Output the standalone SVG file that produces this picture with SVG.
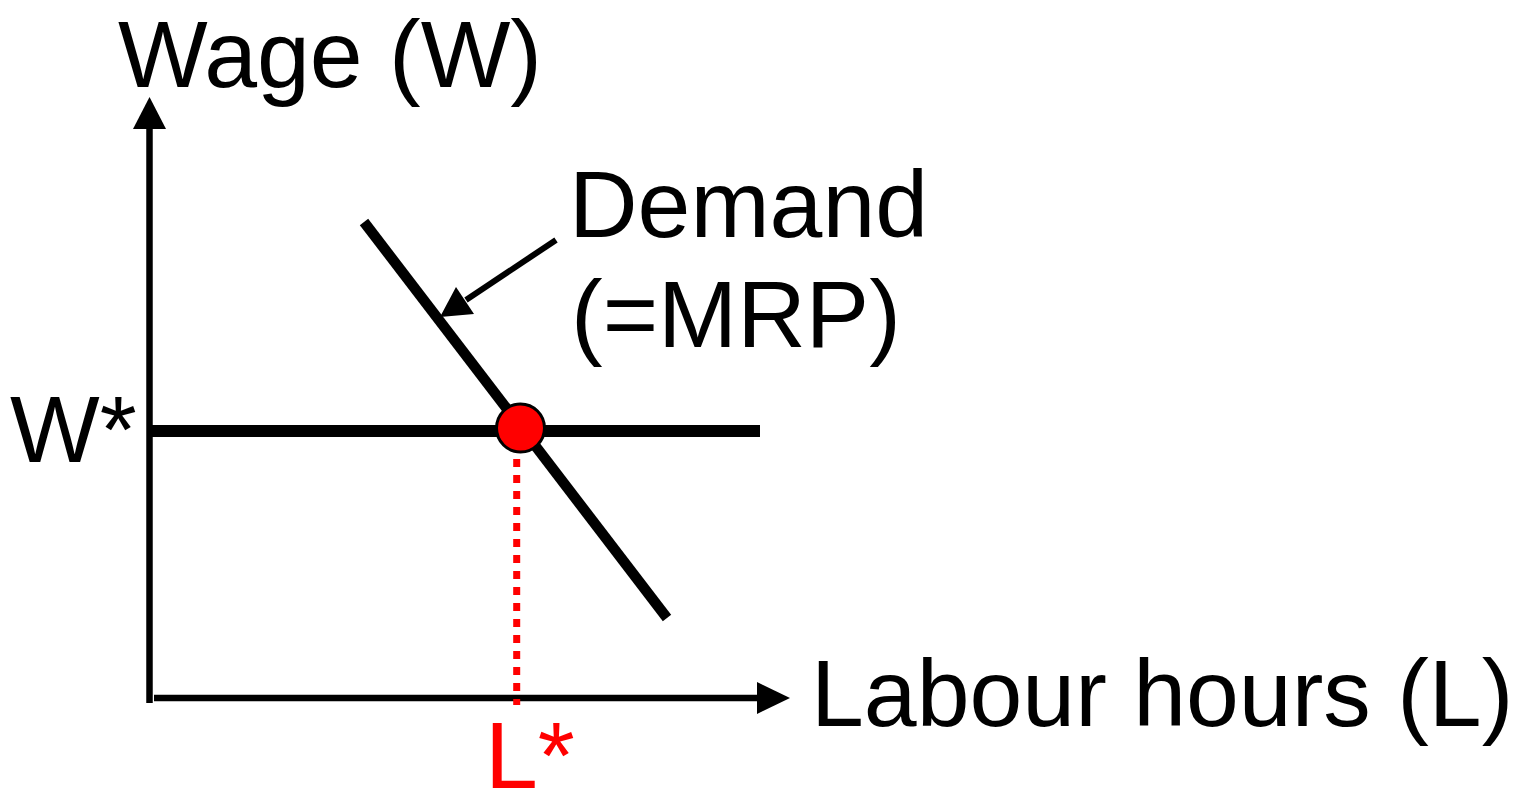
<svg xmlns="http://www.w3.org/2000/svg" width="1529" height="792" viewBox="0 0 1529 792">
<style>
text{font-family:"Liberation Sans",Arial,sans-serif;font-size:95px;fill:#000}
.red{fill:#ff0000}
</style>
<rect width="1529" height="792" fill="#fff"/>
<g id="axes">
<line x1="149.5" y1="703" x2="149.5" y2="125" stroke="#000" stroke-width="6.5"/>
<path d="M149.5,97 L133,129 L166,129 Z" fill="#000"/>
<line x1="154" y1="698" x2="760" y2="698" stroke="#000" stroke-width="6.5"/>
<path d="M790,698 L757,682 L757,714 Z" fill="#000"/>
</g>
<g id="connectors">
<line x1="516.7" y1="459" x2="516.7" y2="705" stroke="#ff0000" stroke-width="7" stroke-dasharray="8 8"/>
<line x1="152" y1="431" x2="760" y2="431" stroke="#000" stroke-width="12"/>
<line x1="364" y1="222" x2="667" y2="618" stroke="#000" stroke-width="10.5"/>
<line x1="556" y1="240" x2="466" y2="300" stroke="#000" stroke-width="6"/>
<path d="M440,317 L456,287 L474,314 Z" fill="#000"/>
</g>
<g id="equilibrium">
<circle cx="520.5" cy="428" r="24" fill="#ff0000" stroke="#000" stroke-width="3"/>
</g>
<g id="labels">
<text x="118" y="87">Wage (W)</text>
<text x="569" y="237">Demand</text>
<text x="571" y="347">(=MRP)</text>
<text x="10" y="462">W*</text>
<text x="811" y="726">Labour hours (L)</text>
<text x="485" y="788" class="red">L*</text>
</g>
</svg>
